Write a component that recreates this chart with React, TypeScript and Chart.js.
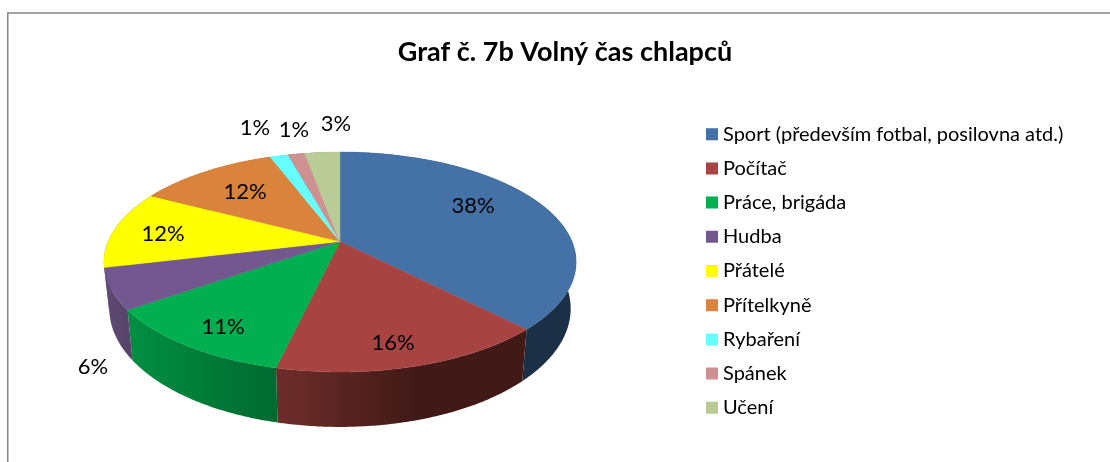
import React, { useEffect, useRef } from "react";
import { Chart, registerables } from "chart.js";

Chart.register(...registerables);

const categories = [
  "Sport (především fotbal, posilovna atd.)",
  "Počítač",
  "Práce, brigáda",
  "Hudba",
  "Přátelé",
  "Přítelkyně",
  "Rybaření",
  "Spánek",
  "Učení",
];
const values = [37.7, 15.9, 11.6, 6.0, 11.5, 11.5, 1.5, 1.35, 2.9];
const valueLabels = ["38%", "16%", "11%", "6%", "12%", "12%", "1%", "1%", "3%"];
const topColors = ["#4472A6", "#A74441", "#00AF50", "#72588E", "#FFFF00", "#D9833D", "#66FFFF", "#CE9090", "#B9CC95"];
const wallStart = ["#1B2F47", "#6E2D2B", "#008F42", "#5E4A75", "#5E4A75", "#8F5520", "#44AAAA", "#8A6060", "#7A8860"];
const wallEnd = ["#1B2F47", "#411A17", "#006A30", "#574269", "#5E4A75", "#8F5520", "#44AAAA", "#8A6060", "#7A8860"];
const labelAnchors = [
  [473, 206], [393, 343], [223, 327], [93, 367], [163, 234], [245, 192], [255, 128], [294, 130], [336, 124],
];

// Perspective view of the pie's disc
const CX = 340, CY = 241.6, A = 232, B = 106.2, K = 0.1855;
const projectTop = (a: number) => {
  // a: Chart.js angle, -PI/2 is twelve o'clock
  const u = Math.cos(a), v = Math.sin(a), w = 1 - K * v;
  return [CX + (A * u) / w, CY + (B * v) / w];
};
const projectBottom = (a: number) => {
  const [x, y] = projectTop(a);
  return [CX + 0.977 * (x - CX), 1.075 * y + 27.05];
};

const LEGEND_BOX_LEFT = 706;
const LEGEND_ROWS_CENTER = 271;

const pie3d = {
  id: "pie3d",
  afterLayout(chart: any) {
    const lg = chart.legend;
    const pad = lg.options.labels.padding;
    // box is a 2px rect with a 10px stroke, so its visual left edge is 5px before the rect
    const newLeft = LEGEND_BOX_LEFT + 5 - pad;
    lg.right += newLeft - lg.left;
    lg.left = newLeft;
    lg.top = LEGEND_ROWS_CENTER - lg.height / 2;
    lg.bottom = lg.top + lg.height;
  },
  beforeDatasetDraw(chart: any) {
    const ctx = chart.ctx as CanvasRenderingContext2D;
    const arcs = chart.getDatasetMeta(0).data;
    const steps = (s: number, e: number) => {
      const n = Math.max(6, Math.ceil((e - s) / 0.01));
      return Array.from({ length: n + 1 }, (_, i) => s + ((e - s) * i) / n);
    };
    ctx.save();
    arcs.forEach((arc: any, i: number) => {
      const pts = steps(arc.startAngle, arc.endAngle);
      const top = pts.map(projectTop);
      const bot = pts.map(projectBottom);
      const xs = [...top, ...bot].map((p) => p[0]);
      const g = ctx.createLinearGradient(Math.min(...xs), 0, Math.max(...xs), 0);
      g.addColorStop(0, wallStart[i]);
      g.addColorStop(i === 1 ? 0.55 : 1, wallEnd[i]);
      g.addColorStop(1, wallEnd[i]);
      ctx.fillStyle = g;
      ctx.beginPath();
      top.forEach((p, k) => (k ? ctx.lineTo(p[0], p[1]) : ctx.moveTo(p[0], p[1])));
      bot.reverse().forEach((p) => ctx.lineTo(p[0], p[1]));
      ctx.closePath();
      ctx.fill();
    });
    arcs.forEach((arc: any, i: number) => {
      ctx.fillStyle = topColors[i];
      ctx.strokeStyle = topColors[i];
      ctx.lineWidth = 0.4;
      ctx.beginPath();
      ctx.moveTo(CX, CY);
      steps(arc.startAngle, arc.endAngle).map(projectTop).forEach((p) => ctx.lineTo(p[0], p[1]));
      ctx.closePath();
      ctx.fill();
      ctx.stroke();
    });
    ctx.restore();
    return false;
  },
  afterDatasetsDraw(chart: any) {
    const ctx = chart.ctx as CanvasRenderingContext2D;
    ctx.save();
    ctx.fillStyle = "#000";
    ctx.font = "22px Lato";
    ctx.textAlign = "center";
    ctx.textBaseline = "middle";
    valueLabels.forEach((t, i) => ctx.fillText(t, labelAnchors[i][0], labelAnchors[i][1]));
    ctx.restore();
  },
  beforeDraw(chart: any) {
    const ctx = chart.ctx as CanvasRenderingContext2D;
    ctx.save();
    ctx.fillStyle = "#fff";
    ctx.fillRect(0, 0, 1110, 462);
    ctx.strokeStyle = "#868686";
    ctx.lineWidth = 1.5;
    ctx.beginPath();
    ctx.moveTo(7.75, 462);
    ctx.lineTo(7.75, 13);
    ctx.lineTo(1110, 13);
    ctx.stroke();
    ctx.restore();
  },
};

export default function App() {
  const ref = useRef<HTMLCanvasElement>(null);
  useEffect(() => {
    const chart = new Chart(ref.current!, {
      type: "pie",
      data: {
        labels: categories,
        datasets: [{ data: values, backgroundColor: topColors, borderWidth: 0 }],
      },
      options: {
        animation: false,
        responsive: false,
        layout: { padding: { left: 22, right: 2, top: 0, bottom: 0 } },
        plugins: {
          tooltip: { enabled: false },
          title: {
            display: true,
            text: "Graf č. 7b Volný čas chlapců",
            color: "#000",
            font: { family: "Lato", size: 27, weight: "bold" },
            padding: { top: 36, bottom: 20 },
          },
          legend: {
            position: "right",
            labels: {
              boxWidth: 2,
              boxHeight: 2,
              padding: 14.2,
              color: "#000",
              font: { family: "Lato", size: 20 },
              generateLabels: (c: any) =>
                Chart.overrides.pie.plugins.legend.labels.generateLabels(c).map((it: any, i: number) => ({
                  ...it,
                  lineWidth: 10,
                  strokeStyle: topColors[i],
                  fillStyle: topColors[i],
                })),
            },
          },
        },
      },
      plugins: [pie3d],
    } as any);
    return () => chart.destroy();
  }, []);
  return (
    <canvas
      ref={ref}
      width={1110}
      height={462}
      style={{ position: "absolute", left: 0, top: 0, width: 1110, height: 462 }}
    />
  );
}
